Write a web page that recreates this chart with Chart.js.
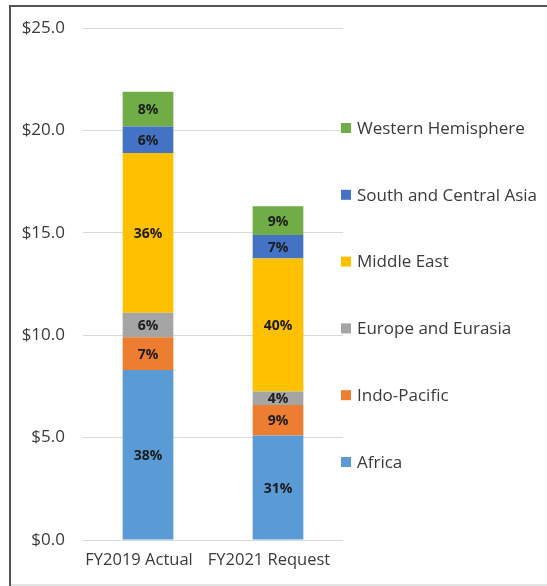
<!DOCTYPE html>
<html>
<head>
<meta charset="utf-8">
<script src="https://cdn.jsdelivr.net/npm/chart.js@4/dist/chart.umd.min.js"></script>
<style>
  html, body { margin: 0; padding: 0; background: #fff; }
  #wrap { position: relative; width: 547px; height: 586px; overflow: hidden; }
  canvas { position: absolute; left: 0; top: 0; }
  .fl { position: absolute; left: 9px; top: 5px; width: 2px; height: 581px; background: #555; }
  .ft { position: absolute; left: 9px; top: 5px; width: 538px; height: 2px; background: #555; }
  .fb { position: absolute; left: 11px; top: 584px; width: 536px; height: 2px; background: #e4e4e4; }
</style>
</head>
<body>
<div id="wrap">
  <canvas id="c" width="547" height="586"></canvas>
  <div class="fl"></div><div class="ft"></div><div class="fb"></div>
</div>
<script>
// ---- data ----
const categories = ["FY2019 Actual", "FY2021 Request"];
const regions = ["Africa", "Indo-Pacific", "Europe and Eurasia", "Middle East", "South and Central Asia", "Western Hemisphere"];
const africa       = [8.3, 5.1];
const indoPacific  = [1.6, 1.5];
const europe       = [1.2, 0.65];
const middleEast   = [7.8, 6.5];
const southCentral = [1.3, 1.15];
const westernHemi  = [1.7, 1.4];
const pctAfrica       = ["38%", "31%"];
const pctIndoPacific  = ["7%", "9%"];
const pctEurope       = ["6%", "4%"];
const pctMiddleEast   = ["36%", "40%"];
const pctSouthCentral = ["6%", "7%"];
const pctWesternHemi  = ["8%", "9%"];
const yTicks = [0, 5, 10, 15, 20, 25];

const seriesValues = [africa, indoPacific, europe, middleEast, southCentral, westernHemi];
const seriesLabels = [pctAfrica, pctIndoPacific, pctEurope, pctMiddleEast, pctSouthCentral, pctWesternHemi];
const colors = ["#5B9BD5", "#ED7D31", "#A5A5A5", "#FFC000", "#4472C4", "#70AD47"];

const FONT = "'Open Sans', 'Noto Sans', sans-serif";
const TEXT = "#3a3a3a";

const barLabelPlugin = {
  id: 'barLabels',
  afterDatasetsDraw(chart) {
    const ctx = chart.ctx;
    ctx.save();
    ctx.font = "bold 14px " + FONT;
    ctx.fillStyle = "#1c1c1c";
    ctx.textAlign = "center";
    ctx.textBaseline = "middle";
    chart.data.datasets.forEach((ds, di) => {
      const meta = chart.getDatasetMeta(di);
      meta.data.forEach((el, i) => {
        const y = (el.y + el.base) / 2;
        ctx.fillText(ds.pctLabels[i], el.x, y + 1);
      });
    });
    ctx.restore();
  }
};

const sideLegendPlugin = {
  id: 'sideLegend',
  afterDraw(chart) {
    const ctx = chart.ctx;
    const x0 = chart.chartArea.right - 2;
    const yTop = 128, step = 66.8;
    ctx.save();
    ctx.font = "17px " + FONT;
    ctx.textBaseline = "middle";
    ctx.textAlign = "left";
    const n = chart.data.datasets.length;
    for (let k = 0; k < n; k++) {
      const ds = chart.data.datasets[n - 1 - k];
      const y = yTop + k * step;
      ctx.fillStyle = ds.backgroundColor;
      ctx.fillRect(x0, y - 5, 10, 10);
      ctx.fillStyle = TEXT;
      ctx.fillText(ds.label, x0 + 16, y + 1);
    }
    ctx.restore();
  }
};

new Chart(document.getElementById('c'), {
  type: 'bar',
  data: {
    labels: categories,
    datasets: regions.map((r, i) => ({
      label: r,
      data: seriesValues[i],
      pctLabels: seriesLabels[i],
      backgroundColor: colors[i],
      borderWidth: 0,
      barPercentage: 0.39,
      categoryPercentage: 1.0
    }))
  },
  options: {
    responsive: false,
    animation: false,
    devicePixelRatio: 1,
    layout: { padding: { left: 11, right: 204, top: 25, bottom: 6 } },
    plugins: { legend: { display: false }, tooltip: { enabled: false } },
    scales: {
      x: {
        stacked: true,
        grid: { display: false },
        border: { display: false },
        ticks: { color: TEXT, font: { family: FONT, size: 16.5 }, padding: 2, labelOffset: -9, maxRotation: 0 },
        afterFit(s) { s.height = 40; }
      },
      y: {
        stacked: true,
        min: 0, max: 25,
        afterBuildTicks(s) { s.ticks = yTicks.map(v => ({ value: v })); },
        grid: { color: "#d9d9d9", drawTicks: false, lineWidth: 1 },
        border: { display: false },
        ticks: {
          color: TEXT, font: { family: FONT, size: 17 }, padding: 18,
          callback: v => "$" + Number(v).toFixed(1)
        },
        afterFit(s) { s.width = 72; }
      }
    }
  },
  plugins: [barLabelPlugin, sideLegendPlugin]
});
</script>
</body>
</html>
